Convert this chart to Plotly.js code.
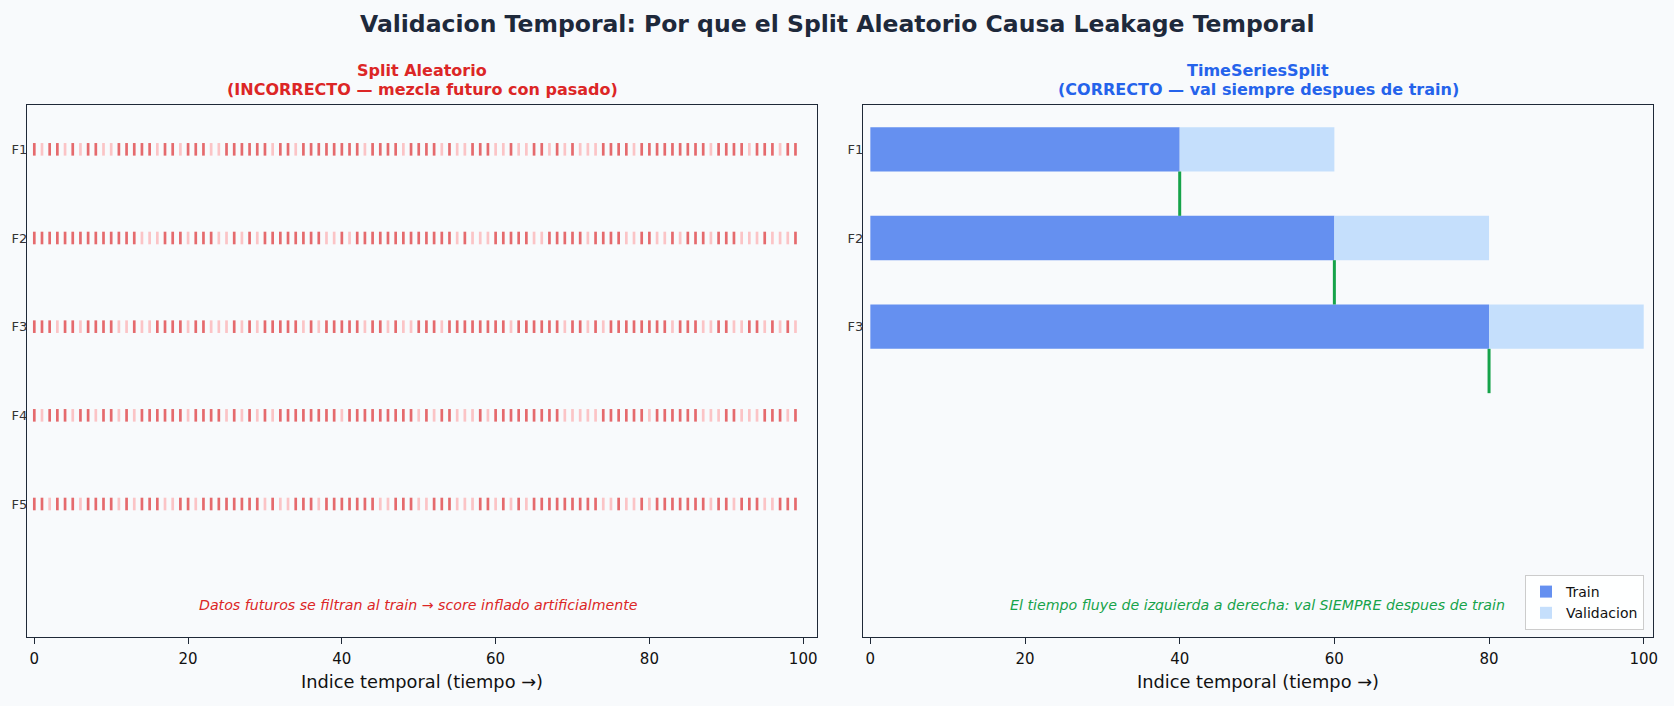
<!DOCTYPE html>
<html>
<head>
<meta charset="utf-8">
<script src="https://cdn.plot.ly/plotly-3.0.1.min.js"></script>
<style>html,body{margin:0;padding:0;background:#f8fafc;}#chart{width:1674px;height:706px;}</style>
</head>
<body>
<div id="chart"></div>
<script>
// ---------- DATA ----------
const foldLabels = ['F1', 'F2', 'F3', 'F4', 'F5'];
const nSamples = 100;
// 1 = sample goes to validation, 0 = train (random split)
const valF1 = [0,1,0,0,1,0,1,0,0,1, 1,0,0,0,0,0,1,0,0,1, 0,0,0,1,1,0,0,0,0,0, 0,1,0,0,1,0,0,0,0,0, 0,0,0,1,0,0,0,0,1,0,
               0,0,0,1,0,1,1,0,0,0, 1,1,0,1,1,0,0,1,0,1, 0,1,1,1,0,0,0,0,1,0, 0,0,0,0,0,0,0,0,1,0, 0,0,0,1,0,0,0,1,0,0];
const valF2 = [0,0,0,0,0,0,0,0,0,0, 0,0,0,0,1,1,1,0,0,0, 1,0,0,0,1,1,0,1,0,1, 0,0,0,0,0,0,0,0,1,1, 0,1,0,0,0,0,0,0,0,0,
               0,0,0,0,0,1,0,1,1,1, 0,0,0,0,0,1,1,0,0,0, 0,0,1,0,0,0,0,1,1,0, 0,1,1,0,1,0,0,0,1,0, 0,0,1,1,1,0,1,1,1,0];
const valF3 = [0,0,0,1,0,0,1,0,0,0, 0,1,1,0,1,1,0,0,0,0, 1,0,0,1,1,1,0,1,0,1, 0,0,0,0,0,1,0,1,0,0, 0,0,0,1,0,0,1,0,1,1,
               0,0,0,1,0,0,0,0,0,0, 0,0,1,0,0,0,0,0,0,1, 0,0,1,0,1,0,0,0,0,0, 0,0,0,1,0,0,0,1,1,0, 0,1,1,0,0,1,0,1,0,1];
const valF4 = [0,1,0,0,0,1,0,0,1,0, 0,1,0,1,0,0,0,0,0,0, 1,0,0,0,0,1,0,1,0,1, 0,1,0,0,0,0,0,0,0,0, 1,0,0,0,0,0,0,0,0,0,
               1,0,1,0,0,1,1,1,0,1, 0,0,0,0,0,0,0,0,0,1, 1,1,1,1,0,0,0,0,0,0, 1,0,0,0,0,0,0,1,1,1, 0,0,1,1,1,0,0,0,1,0];
const valF5 = [0,0,1,0,0,0,1,0,0,0, 0,1,0,1,0,0,0,1,1,0, 0,1,0,0,0,0,0,0,0,0, 1,0,1,1,0,0,0,1,0,0, 0,0,0,0,0,1,1,0,0,0,
               1,1,0,0,0,1,1,1,0,0, 1,0,1,0,1,0,0,0,0,0, 0,0,0,0,1,1,0,1,1,0, 1,0,0,0,0,0,0,0,1,0, 0,1,0,0,0,1,1,0,0,0];
const randomMasks = [valF1, valF2, valF3, valF4, valF5];

// TimeSeriesSplit folds
const tsFoldLabels = ['F1', 'F2', 'F3'];
const tsTrainEnd = [40, 60, 80];
const tsValEnd = [60, 80, 100];

const xTicks = [0, 20, 40, 60, 80, 100];

// ---------- STYLE ----------
const FONT = 'DejaVu Sans, Verdana, sans-serif';
const BG = '#f8fafc';
const RED_TRAIN = '#e56a6d';
const RED_VAL = '#fbc4c6';
const BLUE_TRAIN = '#6590f0';
const BLUE_VAL = '#c5dffc';
const GREEN = '#16a34a';

// ---------- TRACES ----------
const traces = [];
const trX = [], trY = [], vaX = [], vaY = [];
randomMasks.forEach((mask, f) => {
  mask.forEach((v, i) => {
    if (v) { vaX.push(i); vaY.push(f); } else { trX.push(i); trY.push(f); }
  });
});
traces.push({
  type: 'scatter', mode: 'markers', x: trX, y: trY, xaxis: 'x', yaxis: 'y',
  marker: { symbol: 'line-ns', size: 9, color: RED_TRAIN, line: { color: RED_TRAIN, width: 2.7 } },
  showlegend: false, hoverinfo: 'skip'
});
traces.push({
  type: 'scatter', mode: 'markers', x: vaX, y: vaY, xaxis: 'x', yaxis: 'y',
  marker: { symbol: 'line-ns', size: 9, color: RED_VAL, line: { color: RED_VAL, width: 2.7 } },
  showlegend: false, hoverinfo: 'skip'
});

const tsY = tsFoldLabels.map((_, i) => i);
traces.push({
  type: 'bar', orientation: 'h', name: 'Train', xaxis: 'x2', yaxis: 'y2',
  y: tsY, x: tsTrainEnd, base: tsTrainEnd.map(() => 0), width: 0.5,
  marker: { color: BLUE_TRAIN, line: { width: 0 } }, hoverinfo: 'skip'
});
traces.push({
  type: 'bar', orientation: 'h', name: 'Validacion', xaxis: 'x2', yaxis: 'y2',
  y: tsY, x: tsValEnd.map((v, i) => v - tsTrainEnd[i]), base: tsTrainEnd, width: 0.5,
  marker: { color: BLUE_VAL, line: { width: 0 } }, hoverinfo: 'skip'
});
const gx = [], gy = [];
tsTrainEnd.forEach((t, i) => { gx.push(t, t, null); gy.push(i + 0.25, i + 0.75, null); });
traces.push({
  type: 'scatter', mode: 'lines', x: gx, y: gy, xaxis: 'x2', yaxis: 'y2',
  line: { color: GREEN, width: 3 }, showlegend: false, hoverinfo: 'skip'
});

// ---------- LAYOUT ----------
const W = 1674, H = 706;
const px = v => v / W, py = v => 1 - v / H;
const axBase = {
  showline: true, mirror: true, linecolor: '#1f2937', linewidth: 1.1,
  showgrid: false, zeroline: false
};
const xCommon = Object.assign({}, axBase, {
  ticks: 'outside', ticklen: 6, tickwidth: 1, tickcolor: '#1f2937', ticklabelstandoff: 2,
  tickvals: xTicks, ticktext: xTicks.map(String),
  tickfont: { family: FONT, size: 15, color: '#111' },
  title: { text: 'Indice temporal (tiempo →)', font: { family: FONT, size: 17.8, color: '#111' }, standoff: 8 }
});
const yCommon = Object.assign({}, axBase, {
  range: [5.5, -0.5], ticks: '', ticklabelstandoff: -4,
  tickfont: { family: FONT, size: 13, color: '#333' }
});

const leftCx = (px(27) + px(817)) / 2, rightCx = (px(863) + px(1653)) / 2;
const sub = (text, x, y, color) => ({
  text: '<b>' + text + '</b>', xref: 'paper', yref: 'paper', x: x, y: py(y),
  xanchor: 'center', yanchor: 'middle', showarrow: false,
  font: { family: FONT, size: 16, color: color }
});

const layout = {
  width: W, height: H,
  margin: { l: 0, r: 0, t: 0, b: 0 },
  paper_bgcolor: BG, plot_bgcolor: BG,
  barmode: 'overlay',
  font: { family: FONT },
  xaxis: Object.assign({}, xCommon, { domain: [px(27), px(817)], range: [-0.95, 101.8], anchor: 'y' }),
  yaxis: Object.assign({}, yCommon, { domain: [py(637), py(105)], anchor: 'x',
    tickvals: foldLabels.map((_, i) => i), ticktext: foldLabels }),
  xaxis2: Object.assign({}, xCommon, { domain: [px(863), px(1653)], range: [-0.95, 101.2], anchor: 'y2' }),
  yaxis2: Object.assign({}, yCommon, { domain: [py(637), py(105)], anchor: 'x2',
    tickvals: tsY, ticktext: tsFoldLabels }),
  showlegend: true,
  legend: {
    x: px(1644), xanchor: 'right', y: py(630), yanchor: 'bottom',
    bgcolor: 'rgba(255,255,255,0.85)', bordercolor: '#cccccc', borderwidth: 1,
    font: { family: FONT, size: 14, color: '#111' }, tracegroupgap: 0
  },
  annotations: [
    { text: '<b>Validacion Temporal: Por que el Split Aleatorio Causa Leakage Temporal</b>',
      xref: 'paper', yref: 'paper', x: 0.5, y: py(23.5), xanchor: 'center', yanchor: 'middle',
      showarrow: false, font: { family: FONT, size: 23.5, color: '#1e293b' } },
    sub('Split Aleatorio', leftCx, 71, '#dc2626'),
    sub('(INCORRECTO — mezcla futuro con pasado)', leftCx, 89, '#dc2626'),
    sub('TimeSeriesSplit', rightCx, 71, '#2563eb'),
    sub('(CORRECTO — val siempre despues de train)', rightCx, 89, '#2563eb'),
    { text: '<i>Datos futuros se filtran al train → score inflado artificialmente</i>',
      xref: 'x', yref: 'y', x: 50, y: 5.14, xanchor: 'center', yanchor: 'middle',
      showarrow: false, font: { family: FONT, size: 14.2, color: '#dc2626' } },
    { text: '<i>El tiempo fluye de izquierda a derecha: val SIEMPRE despues de train</i>',
      xref: 'x2', yref: 'y2', x: 50, y: 5.14, xanchor: 'center', yanchor: 'middle',
      showarrow: false, font: { family: FONT, size: 14.2, color: GREEN } }
  ]
};

Plotly.newPlot('chart', traces, layout, { staticPlot: true, displayModeBar: false });
</script>
</body>
</html>
